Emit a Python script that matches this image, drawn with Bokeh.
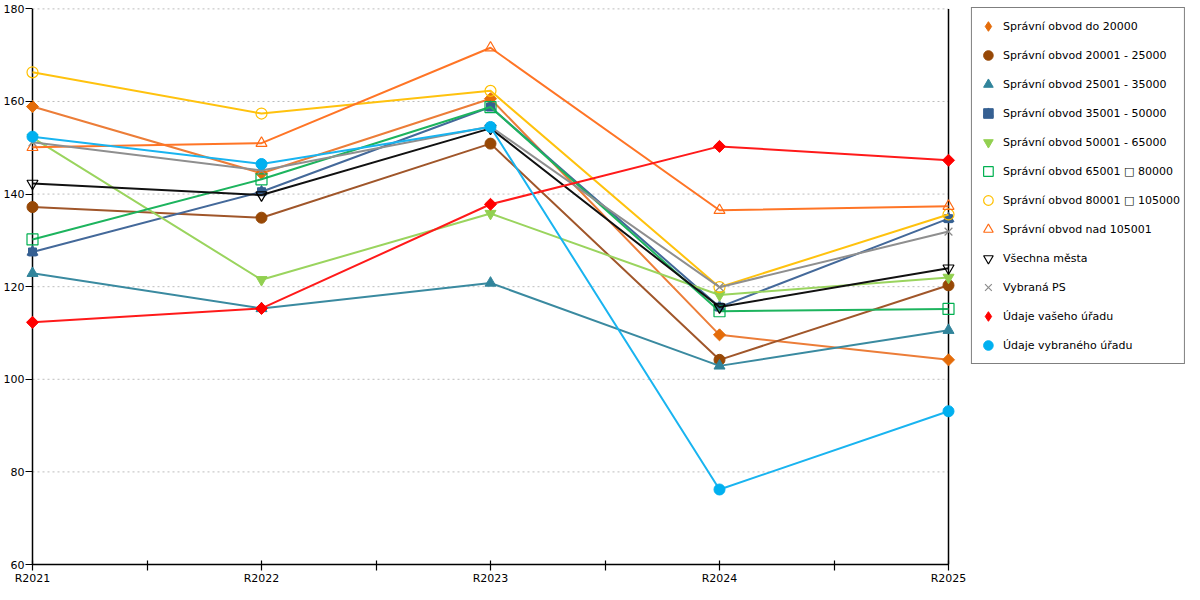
import math
from bokeh.plotting import figure
from bokeh.models import (Range1d, FixedTicker, Legend, LegendItem)
from bokeh.embed import file_html
from bokeh.resources import INLINE

years = ["R2021", "R2022", "R2023", "R2024", "R2025"]

do_20000 = [158.9, 144.5, 160.6, 109.6, 104.2]
s20001_25000 = [137.2, 134.9, 150.9, 104.2, 120.3]
s25001_35000 = [122.9, 115.3, 120.8, 102.9, 110.6]
s35001_50000 = [127.5, 140.5, 158.8, 115.6, 134.7]
s50001_65000 = [152.2, 121.5, 135.8, 118.2, 122.0]
s65001_80000 = [130.2, 143.2, 158.8, 114.7, 115.2]
s80001_105000 = [166.3, 157.4, 162.3, 119.9, 135.6]
nad_105001 = [150.1, 151.0, 171.6, 136.5, 137.4]
vsechna_mesta = [142.3, 139.8, 154.2, 115.6, 124.0]
vybrana_ps = [151.2, 145.1, 154.6, 119.9, 131.9]
vas_urad = [112.3, 115.3, 137.8, 150.3, 147.3]
vybrany_urad = [152.4, 146.5, 154.5, 76.2, 93.1]

y_ticks = [60, 80, 100, 120, 140, 160, 180]
grid_ticks = [80, 100, 120, 140, 160, 180]

# (label, values, line colour, marker colour, marker, filled)
series = [
    ("Správní obvod do 20000", do_20000, "#EC7D38", "#E46C0A", "diamond", True),
    ("Správní obvod 20001 - 25000", s20001_25000, "#A0562A", "#974806", "circle", True),
    ("Správní obvod 25001 - 35000", s25001_35000, "#3A8AA0", "#31849B", "triangle", True),
    ("Správní obvod 35001 - 50000", s35001_50000, "#44699A", "#366092", "house", True),
    ("Správní obvod 50001 - 65000", s50001_65000, "#9AD45E", "#92D050", "inverted_triangle", True),
    ("Správní obvod 65001 □ 80000", s65001_80000, "#1DB45E", "#00B050", "square", False),
    ("Správní obvod 80001 □ 105000", s80001_105000, "#FFC20E", "#FFC000", "circle", False),
    ("Správní obvod nad 105001", nad_105001, "#FF7526", "#FF6A13", "triangle", False),
    ("Všechna města", vsechna_mesta, "#111111", "#000000", "inverted_triangle", False),
    ("Vybraná PS", vybrana_ps, "#8F8F8F", "#8C8C8C", "x", False),
    ("Údaje vašeho úřadu", vas_urad, "#FF1A1A", "#FF0000", "diamond", True),
    ("Údaje vybraného úřadu", vybrany_urad, "#19B4F0", "#00B0F0", "circle", True),
]

FONT = "DejaVu Sans"
xs = list(range(len(years)))
x_last = len(years) - 1

PX_PER_UNIT = 229.0          # horizontal scale: one category step
PAD_PX = 7                   # room left of the first category for whole markers
LEGEND_AREA_PX = 237         # room right of the last category for the legend
PAD = PAD_PX / PX_PER_UNIT
X_END = x_last + LEGEND_AREA_PX / PX_PER_UNIT
FRAME_W = int(round((X_END + PAD) * PX_PER_UNIT))

p = figure(frame_width=FRAME_W, frame_height=557, output_backend="svg", toolbar_location=None,
           x_range=Range1d(-PAD, X_END), y_range=Range1d(60, 180.3),
           min_border_top=7, min_border_left=23, min_border_bottom=0, min_border_right=0)
p.outline_line_color = None
p.background_fill_color = "white"
p.border_fill_color = "white"
p.xgrid.visible = False
p.ygrid.visible = False

# dashed horizontal gridlines between the two vertical axes
p.segment(x0=[xs[0]] * len(grid_ticks), y0=grid_ticks, x1=[xs[-1]] * len(grid_ticks),
          y1=grid_ticks, line_color="#BDBDBD", line_dash="2 3", line_width=1)
# vertical axis lines at the first and last category
p.segment(x0=[xs[0], xs[-1]], y0=[y_ticks[0]] * 2, x1=[xs[0], xs[-1]], y1=[y_ticks[-1]] * 2,
          line_color="#000000", line_width=1.5)

xa = p.xaxis[0]
xa.bounds = (xs[0], xs[-1])
xa.ticker = FixedTicker(ticks=[i * 0.5 for i in range(2 * len(years) - 1)])
overrides = {}
for i in range(2 * len(years) - 1):
    overrides[i * 0.5] = years[i // 2] if i % 2 == 0 else ""
xa.major_label_overrides = overrides
xa.major_tick_in = 4
xa.major_tick_out = 6
xa.minor_tick_out = 0
xa.minor_tick_in = 0
xa.axis_line_width = 1.5
xa.major_tick_line_width = 1.2
xa.major_label_standoff = 1
xa.major_label_text_font = FONT
xa.major_label_text_font_size = "11px"
xa.major_label_text_color = "#000000"

ya = p.yaxis[0]
ya.ticker = FixedTicker(ticks=y_ticks)
ya.major_tick_in = PAD_PX
ya.major_tick_out = 0
ya.minor_tick_out = 0
ya.minor_tick_in = 0
ya.axis_line_alpha = 0
ya.major_tick_line_width = 1.2
ya.major_label_standoff = 1
ya.major_label_text_font = FONT
ya.major_label_text_font_size = "11px"
ya.major_label_text_color = "#000000"

items = []
for name, vals, lcolor, color, marker, filled in series:
    p.line(xs, vals, line_color=lcolor, line_width=2)
    if marker == "house":
        r1 = p.scatter(xs, vals, marker="square", size=8, fill_color=color, line_color=color)
        r2 = p.scatter(xs, vals, marker="triangle", size=11, fill_color=color, line_color=color)
        items.append(LegendItem(label=name, renderers=[r1, r2]))
        continue
    if marker == "diamond":
        p.scatter(xs, vals, marker="square", angle=math.pi / 4, size=8.5,
                  fill_color=color, line_color=color)
        # hidden twin that only supplies the legend glyph
        r = p.scatter(xs, vals, marker="diamond", size=12, fill_color=color,
                      line_color=color, visible=False)
        items.append(LegendItem(label=name, renderers=[r]))
        continue
    if filled:
        r = p.scatter(xs, vals, marker=marker, size=11, fill_color=color, line_color=color)
    else:
        r = p.scatter(xs, vals, marker=marker, size=11, fill_color=None, line_color=color,
                      line_width=1.2)
    items.append(LegendItem(label=name, renderers=[r]))

legend = Legend(items=items, location="top_right")
legend.label_text_font = FONT
legend.label_text_font_size = "11px"
legend.label_text_color = "#000000"
legend.glyph_width = 24
legend.glyph_height = 28
legend.label_height = 20
legend.spacing = 1
legend.padding = 4
legend.label_standoff = 3
legend.margin = 0
legend.border_line_color = "#000000"
legend.border_line_width = 1
legend.background_fill_color = "white"
legend.background_fill_alpha = 1
p.add_layout(legend)

open("out.html", "w").write(file_html(p, INLINE))
